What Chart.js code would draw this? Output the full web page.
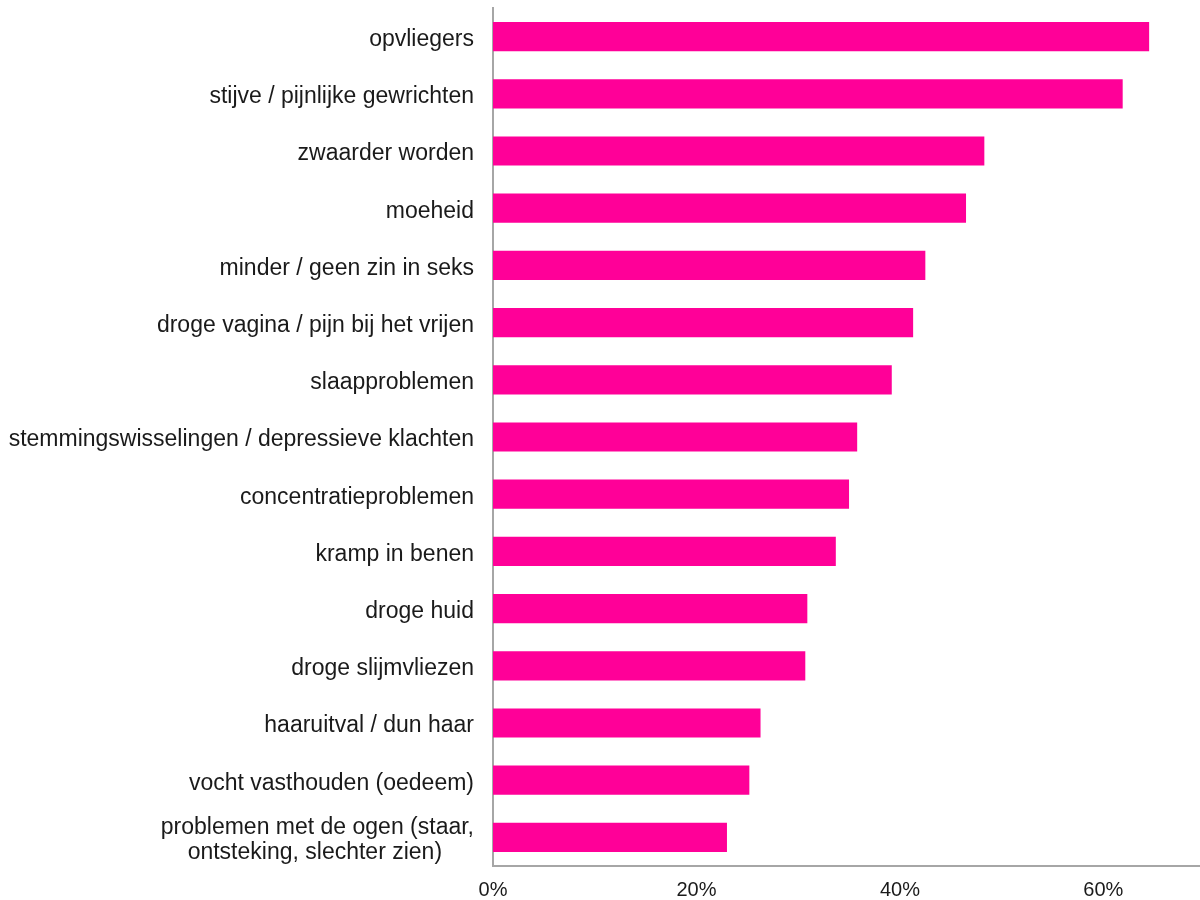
<!DOCTYPE html>
<html>
<head>
<meta charset="utf-8">
<script src="https://cdn.jsdelivr.net/npm/chart.js@4"></script>
<style>
    html, body { margin: 0; padding: 0; background: #fff; overflow: hidden; }
    #wrap { width: 1200px; height: 900px; position: relative; }
</style>
</head>
<body>
<div id="wrap"><canvas id="klachtenChart"></canvas></div>
<script>
// Symptoms (top to bottom) and share of respondents in %
const categories = [
    'opvliegers',
    'stijve / pijnlijke gewrichten',
    'zwaarder worden',
    'moeheid',
    'minder / geen zin in seks',
    'droge vagina / pijn bij het vrijen',
    'slaapproblemen',
    'stemmingswisselingen / depressieve klachten',
    'concentratieproblemen',
    'kramp in benen',
    'droge huid',
    'droge slijmvliezen',
    'haaruitval / dun haar',
    'vocht vasthouden (oedeem)',
    ['problemen met de ogen (staar,', 'ontsteking, slechter zien)\u00a0\u00a0\u00a0\u00a0\u00a0']
];
const percentages = [64.5, 61.9, 48.3, 46.5, 42.5, 41.3, 39.2, 35.8, 35.0, 33.7, 30.9, 30.7, 26.3, 25.2, 23.0];
const tickValues = [0, 20, 40, 60];

const BAR_COLOR = '#ff0098';
const AXIS_COLOR = '#a6a6a6';
const TEXT_COLOR = '#1a1a1a';

function initChart() {
    const ctx = document.getElementById('klachtenChart').getContext('2d');
    Chart.defaults.font.family = "'Liberation Sans', Arial, sans-serif";
    Chart.defaults.color = TEXT_COLOR;

    new Chart(ctx, {
        type: 'bar',
        data: {
            labels: categories,
            datasets: [{
                data: percentages,
                backgroundColor: BAR_COLOR,
                borderWidth: 0,
                barPercentage: 0.51,
                categoryPercentage: 1.0
            }]
        },
        options: {
            indexAxis: 'y',
            responsive: true,
            maintainAspectRatio: false,
            animation: false,
            layout: { padding: { top: 8, right: 0, bottom: 0, left: 0 } },
            plugins: {
                legend: { display: false },
                tooltip: { enabled: false }
            },
            scales: {
                x: {
                    min: 0,
                    max: 69.5,
                    grid: { display: false, drawTicks: false },
                    border: { display: true, color: AXIS_COLOR, width: 2 },
                    ticks: {
                        stepSize: 20,
                        padding: 12,
                        font: { size: 20 },
                        color: TEXT_COLOR,
                        callback: v => tickValues.includes(v) ? v + '%' : ''
                    },
                    afterFit: scale => {
                        scale.height = 34;
                        scale.paddingLeft = 0;
                        scale.paddingRight = 0;
                    }
                },
                y: {
                    grid: { display: false, drawTicks: false },
                    border: { display: true, color: AXIS_COLOR, width: 2 },
                    ticks: {
                        padding: 19,
                        labelOffset: 3,
                        font: { size: 23, lineHeight: 1.1 },
                        color: TEXT_COLOR
                    },
                    afterFit: scale => {
                        scale.width = 493;
                        scale.paddingTop = 0;
                        scale.paddingBottom = 0;
                    }
                }
            }
        }
    });
}

document.addEventListener('DOMContentLoaded', initChart);
</script>
</body>
</html>
